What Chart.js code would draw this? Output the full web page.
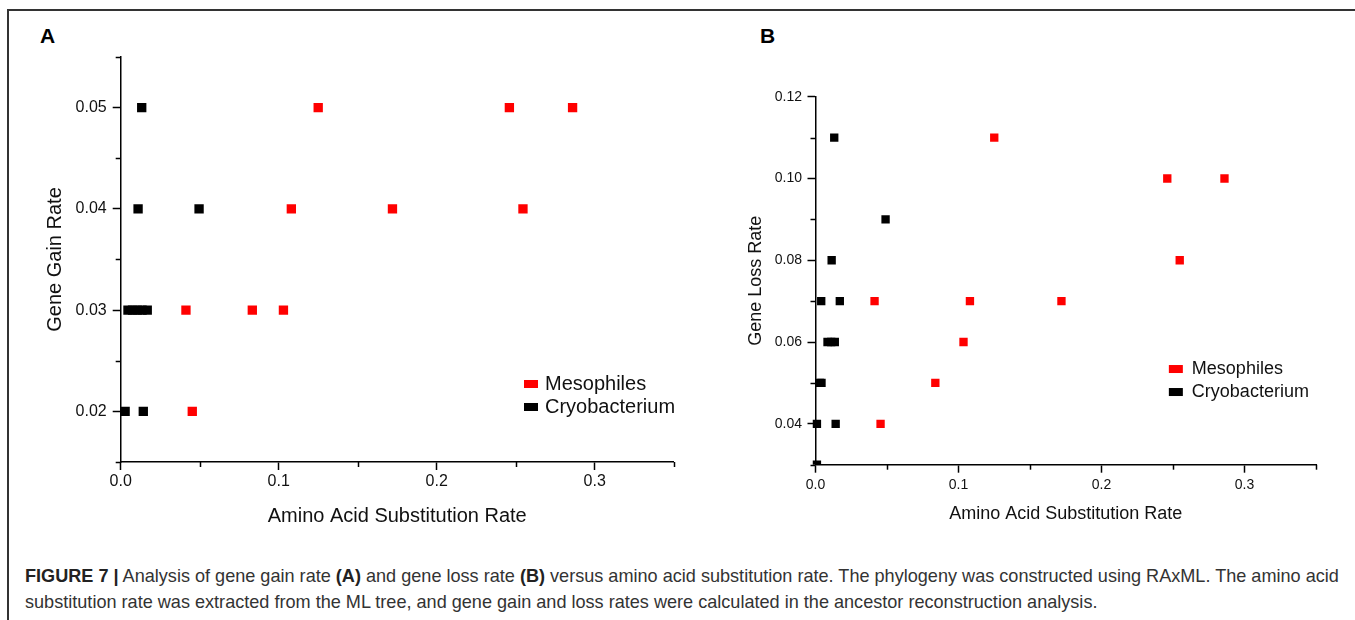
<!DOCTYPE html>
<html>
<head>
<meta charset="utf-8">
<script src="https://cdn.jsdelivr.net/npm/chart.js@4.4.0/dist/chart.umd.min.js"></script>
<style>
body{margin:0;background:#fff;font-family:"Liberation Sans",Arial,sans-serif;}
#page{position:relative;width:1355px;height:620px;overflow:hidden;background:#fff;}
.line-top{position:absolute;left:8px;top:9px;width:1347px;height:2px;background:#333;}
.line-left{position:absolute;left:7px;top:9px;width:2px;height:611px;background:#333;}
.letter{position:absolute;top:25px;font-weight:bold;font-size:21px;line-height:21px;color:#000;}
canvas{position:absolute;}
#caption{position:absolute;left:25px;top:563px;font-size:18.1px;line-height:26px;color:#333;white-space:nowrap;}
#caption b{color:#222;}
</style>
</head>
<body>
<div id="page">
  <div class="line-top"></div>
  <div class="line-left"></div>
  <div class="letter" style="left:40px">A</div>
  <div class="letter" style="left:760px">B</div>
  <canvas id="gain" width="690" height="520" style="left:8px;top:11px"></canvas>
  <canvas id="loss" width="655" height="520" style="left:700px;top:11px"></canvas>
  <div id="caption"><b>FIGURE 7 |</b> Analysis of gene gain rate <b>(A)</b> and gene loss rate <b>(B)</b> versus amino acid substitution rate. The phylogeny was constructed using RAxML. The amino acid<br>substitution rate was extracted from the ML tree, and gene gain and loss rates were calculated in the ancestor reconstruction analysis.</div>
</div>
<script>
const seriesNames = ['Mesophiles', 'Cryobacterium']
const seriesColors = ['#ff0000', '#000000']

// panel A: gene gain rate
const gainMesoX = [0.0413, 0.0453, 0.0833, 0.103, 0.108, 0.125, 0.172, 0.246, 0.2546, 0.286]
const gainMesoY = [0.03, 0.02, 0.03, 0.03, 0.04, 0.05, 0.04, 0.05, 0.04, 0.05]
const gainCryoX = [0.0028, 0.0143, 0.0046, 0.0075, 0.0105, 0.0135, 0.0168, 0.011, 0.0496, 0.0133]
const gainCryoY = [0.02, 0.02, 0.03, 0.03, 0.03, 0.03, 0.03, 0.04, 0.04, 0.05]

// panel B: gene loss rate
const lossMesoX = [0.0413, 0.0455, 0.0838, 0.1035, 0.108, 0.125, 0.172, 0.246, 0.2547, 0.286]
const lossMesoY = [0.07, 0.04, 0.05, 0.06, 0.07, 0.11, 0.07, 0.10, 0.08, 0.10]
const lossCryoX = [0.001, 0.001, 0.0141, 0.003, 0.0042, 0.0084, 0.011, 0.0135, 0.004, 0.017, 0.0113, 0.049, 0.0131]
const lossCryoY = [0.03, 0.04, 0.04, 0.05, 0.05, 0.06, 0.06, 0.06, 0.07, 0.07, 0.08, 0.09, 0.11]

// labelled ticks, the others are minor
const rateMajor = [0, 0.1, 0.2, 0.3]
const gainMajor = [0.02, 0.03, 0.04, 0.05]
const lossMajor = [0.04, 0.06, 0.08, 0.10, 0.12]

Chart.defaults.font.family = '"Liberation Sans", Arial, sans-serif'
Chart.defaults.color = '#111'

function isMajor(v, list) {
    return list.some(m => Math.abs(m - v) < 1e-9)
}

function points(xs, ys) {
    return xs.map((x, i) => ({x: x, y: ys[i]}))
}

const minorTicks = {
    id: 'minorTicks',
    afterDraw(chart, args, opts) {
        const ctx = chart.ctx
        ctx.save()
        ctx.strokeStyle = '#000'
        ctx.lineWidth = 1.5
        const sx = chart.scales.x, sy = chart.scales.y
        sx.ticks.forEach(t => {
            if (isMajor(t.value, opts.x)) return
            const px = Math.round(sx.getPixelForValue(t.value)) + 0.5
            ctx.beginPath(); ctx.moveTo(px, sx.top); ctx.lineTo(px, sx.top + 5); ctx.stroke()
        })
        sy.ticks.forEach(t => {
            if (isMajor(t.value, opts.y)) return
            const py = Math.round(sy.getPixelForValue(t.value)) + 0.5
            ctx.beginPath(); ctx.moveTo(sy.right, py); ctx.lineTo(sy.right - 5, py); ctx.stroke()
        })
        ctx.restore()
    }
}

const boxLegend = {
    id: 'boxLegend',
    afterDraw(chart, args, opts) {
        const ctx = chart.ctx
        const a = chart.chartArea
        const x = a.left + opts.x * (a.right - a.left)
        const y = a.top + opts.y * (a.bottom - a.top)
        ctx.save()
        ctx.font = opts.size + 'px "Liberation Sans", Arial, sans-serif'
        ctx.textBaseline = 'middle'
        chart.data.datasets.forEach((d, i) => {
            const cy = y + i * opts.step
            ctx.fillStyle = d.backgroundColor
            ctx.fillRect(x, cy - 4, 14, 8)
            ctx.fillStyle = '#111'
            ctx.fillText(d.label, x + opts.textGap, cy)
        })
        ctx.restore()
    }
}

function axis(o) {
    return {
        type: 'linear',
        min: o.min,
        max: o.max,
        ticks: {
            stepSize: o.step,
            autoSkip: false,
            padding: o.pad,
            color: '#111',
            font: {size: o.font},
            callback: v => isMajor(v, o.major) ? v.toFixed(o.digits) : ''
        },
        grid: {
            drawOnChartArea: false,
            drawTicks: true,
            tickLength: 8,
            tickWidth: 1.5,
            tickColor: c => isMajor(c.tick.value, o.major) ? '#000' : 'rgba(0,0,0,0)'
        },
        border: {display: true, color: '#000', width: 1.5},
        title: {display: true, text: o.title, color: '#111', font: {size: o.titleSize}, padding: o.titlePad},
        afterFit: s => {
            if (o.horizontal) s.height = o.size
            else s.width = o.size
        }
    }
}

function panel(id, meso, cryo, radius, xAxis, yAxis, padding, legend, majors) {
    return new Chart(document.getElementById(id), {
        type: 'scatter',
        data: {
            datasets: [meso, cryo].map((d, i) => ({
                label: seriesNames[i],
                data: d,
                backgroundColor: seriesColors[i],
                borderWidth: 0,
                pointStyle: 'rect',
                pointRadius: radius,
                pointHoverRadius: radius,
                clip: {left: 10, top: 10, right: 10, bottom: 0}
            }))
        },
        options: {
            responsive: false,
            animation: false,
            layout: {padding: padding},
            plugins: {
                legend: {display: false},
                tooltip: {enabled: false},
                boxLegend: legend,
                minorTicks: majors
            },
            scales: {x: xAxis, y: yAxis}
        },
        plugins: [minorTicks, boxLegend]
    })
}

panel('gain', points(gainMesoX, gainMesoY), points(gainCryoX, gainCryoY), 6.6,
    axis({min: 0, max: 0.35, step: 0.05, major: rateMajor, digits: 1, font: 16, pad: 2,
        title: 'Amino Acid Substitution Rate', titleSize: 20, titlePad: {top: 0, bottom: 3},
        size: 69, horizontal: true}),
    axis({min: 0.015, max: 0.055, step: 0.005, major: gainMajor, digits: 2, font: 16, pad: 6,
        title: 'Gene Gain Rate', titleSize: 20, titlePad: {top: 35, bottom: 0}, size: 112.7}),
    {top: 46, right: 24.3, left: 0, bottom: 0},
    {x: 0.7293, y: 0.8074, step: 23, textGap: 21, size: 20},
    {x: rateMajor, y: gainMajor})

panel('loss', points(lossMesoX, lossMesoY), points(lossCryoX, lossCryoY), 5.9,
    axis({min: 0, max: 0.35, step: 0.05, major: rateMajor, digits: 1, font: 14, pad: 4,
        title: 'Amino Acid Substitution Rate', titleSize: 18, titlePad: {top: 0, bottom: 6},
        size: 66.3, horizontal: true}),
    axis({min: 0.03, max: 0.12, step: 0.01, major: lossMajor, digits: 2, font: 14, pad: 5.5,
        title: 'Gene Loss Rate', titleSize: 18, titlePad: {top: 45, bottom: 0}, size: 115.5}),
    {top: 85.7, right: 39, left: 0, bottom: 0},
    {x: 0.706, y: 0.74, step: 23, textGap: 23, size: 18},
    {x: rateMajor, y: lossMajor})
</script>
</body>
</html>
